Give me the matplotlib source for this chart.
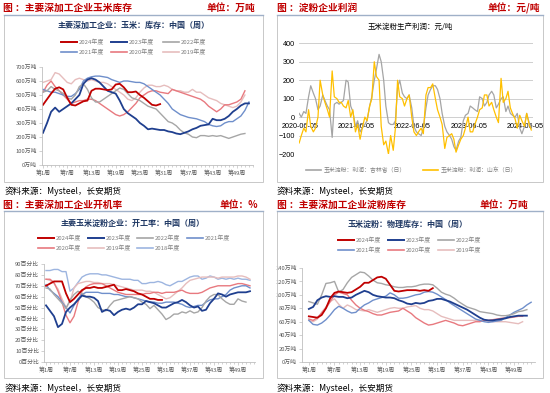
import numpy as np
import pandas as pd
import matplotlib
matplotlib.use("Agg")
import matplotlib.pyplot as plt
from matplotlib.patches import Rectangle
from matplotlib.lines import Line2D

plt.rcParams['font.family'] = ['Noto Sans CJK SC', 'DejaVu Sans']

W, H = 550, 393

# ---------------- data ----------------
week_ticks = [1, 7, 13, 19, 25, 31, 37, 43, 49]
week_labels = ["第%d周" % w for w in week_ticks]

# Panel 1: corn inventory (万吨)
inv_2024 = [430, 470, 510, 545, 555, 540, 480, 430, 425, 440, 455, 460, 530, 545, 545, 540, 535, 540,
            575, 580, 555, 520, 520, 525, 500, 480, 455, 430, 425, 435]
inv_2023 = [230, 300, 380, 410, 380, 400, 420, 440, 470, 500, 580, 610, 620, 610, 590, 560, 530, 520,
            510, 460, 400, 370, 350, 330, 300, 280, 255, 260, 255, 250, 250, 240, 235, 225, 220, 230,
            240, 255, 265, 280, 285, 290, 330, 320, 320, 330, 350, 380, 400, 425, 440, 440]
inv_2022 = [520, 530, 560, 540, 530, 510, 480, 470, 500, 560, 580, 540, 480, 450, 450, 470, 490, 510,
            530, 550, 540, 510, 480, 470, 460, 440, 420, 410, 400, 370, 340, 310, 300, 280, 250, 230,
            220, 200, 195, 210, 210, 205, 210, 205, 210, 200, 190, 200, 210, 220, 225]
inv_2021 = [540, 530, 520, 520, 510, 500, 490, 490, 510, 540, 600, 620, 630, 635, 635, 630, 625, 610,
            600, 590, 600, 600, 595, 590, 590, 580, 560, 540, 520, 500, 470, 440, 400, 380, 360, 350,
            340, 335, 330, 320, 310, 290, 280, 275, 280, 300, 310, 310, 330, 350, 390, 450]
inv_2020 = [520, 570, 600, 560, 530, 500, 470, 440, 450, 460, 460, 470, 470, 460, 440, 420, 400, 380,
            360, 350, 360, 380, 410, 440, 480, 500, 520, 530, 530, 520, 515, 510, 540, 530, 520, 510,
            500, 490, 480, 470, 450, 420, 400, 380, 400, 430, 430, 440, 450, 470, 530]
inv_2019 = [590, 600, 610, 660, 650, 620, 590, 580, 610, 620, 610, 600, 610, 600, 590, 590, 580, 560,
            540, 520, 500, 470, 460, 480, 520, 550, 570, 570, 560, 560, 570, 560, 540, 530, 530, 520,
            520, 540, 520, 520, 500, 480, 470, 460, 440, 430, 420, 410, 420, 450, 500]
inv_yticks = [0, 100, 200, 300, 400, 500, 600, 700]
inv_ylabels = ["%d万吨" % v for v in inv_yticks]

# Panel 2: starch profit (元/吨), semi-monthly readings
profit_dates = pd.date_range("2020-06-01", "2024-07-31", freq="SMS")
profit_jilin = [20, 0, 30, 20, 110, 170, 130, 100, 40, 60, 120, 90, 60, 40,
                -110, 70, 80, 70, 80, 90, 200, 190, 60, 30, -50, -20, -80, -60, -40, -20, 60, 110,
                200, 260, 340, 300, 200, 60,
                -30, -40, -40, -20, 160, 200, 130, 110, 100, 120, 50, -50, -80, -90, -100, -60,
                50, 120, 150, 170, 170, 150, 100, 20,
                -50, -80, -100, -120, -160, -180, -130, -110, -20, 10, 20, 60, 50, 40, 30, 110,
                100, 60, 80, 120, 140, 120, 50, 70,
                100, 110, 30, 60, 20, 10, 0, 20, -60, -90, -50, 20, -30, -60]
profit_shandong = [-140, -100, -60, -80, 40, -50, -80, -60, 0, 200, 120, 80, 40, 0,
                   250, 110, 100, 80, 80, 60, 50, 90, 0, 40, -80, -40, -120, -60, 0, -20, 60, 100,
                   300, 220, 200, -50, -150, -130,
                   -200, -100, -180, -60, 200, 110, 100, 60, 100, 120, 0, -80, -100, -80, -60, -90,
                   120, 160, 160, 180, 100, 40, 0, -40,
                   -170, -110, -100, -90, -120, -190, -150, -120, -100, -60, 0, -80, -80, -40, 0, 40,
                   50, 120, 120, 60, 80, 40, 0, -30,
                   210, 80, 100, 140, 50, 20, -10, -60, 10, -20, -50, 20, -40, -70]
profit_xticks = ["2020-06-05", "2021-06-05", "2022-06-05", "2023-06-05", "2024-06-05"]
profit_yticks = [-200, -100, 0, 100, 200, 300, 400]

# Panel 3: operating rate (%)
rate_2024 = [70, 72, 74, 74, 74, 63, 55, 58, 62, 66, 68, 68, 69, 68, 68, 69, 70, 71, 66, 66, 67, 66,
             65, 63, 62, 60, 58, 58, 57, 57]
rate_2023 = [52, 47, 42, 32, 35, 46, 50, 53, 57, 61, 60, 60, 59, 56, 46, 48, 47, 43, 46, 48, 49, 48,
             50, 53, 53, 56, 55, 54, 52, 50, 50, 52, 54, 55, 57, 55, 52, 50, 51, 47, 48, 54, 58, 63,
             62, 60, 62, 63, 64, 64, 64, 65]
rate_2022 = [68, 67, 62, 58, 54, 49, 57, 62, 65, 63, 60, 58, 55, 50, 48, 47, 52, 56, 57, 58, 59, 60,
             59, 58, 55, 53, 49, 52, 48, 44, 39, 41, 44, 44, 46, 45, 47, 45, 46, 50, 56, 60, 62, 62,
             58, 55, 53, 53, 58, 56, 55]
rate_2021 = [71, 66, 63, 60, 55, 50, 45, 52, 58, 62, 64, 64, 64, 64, 63, 63, 63, 62, 62, 61, 60, 60,
             59, 58, 57, 56, 55, 55, 54, 54, 55, 55, 55, 54, 53, 51, 50, 51, 52, 52, 55, 57, 58, 58,
             60, 62, 66, 68, 69, 70, 70, 68]
rate_2020 = [76, 76, 73, 65, 55, 43, 36, 42, 55, 65, 69, 71, 72, 72, 72, 70, 68, 66, 64, 63, 62, 62,
             62, 62, 62, 63, 63, 64, 64, 63, 64, 64, 64, 65, 66, 64, 63, 63, 63, 64, 66, 68, 69, 70,
             70, 70, 70, 71, 72, 72, 71, 70]
rate_2019 = [76, 75, 72, 67, 58, 50, 55, 68, 72, 73, 74, 74, 73, 73, 72, 72, 72, 71, 70, 69, 68, 67,
             66, 66, 66, 65, 65, 64, 62, 60, 58, 59, 62, 65, 68, 72, 75, 76, 77, 78, 78, 78, 78, 77,
             78, 78, 78, 78, 79, 79, 78, 76]
rate_2018 = [84, 84, 85, 85, 83, 83, 65, 68, 73, 78, 80, 81, 81, 81, 80, 80, 79, 78, 77, 76, 76, 76,
             75, 75, 72, 72, 73, 73, 74, 73, 71, 70, 72, 74, 74, 76, 78, 79, 79, 76, 77, 79, 78, 76,
             77, 76, 77, 76, 77, 76, 76, 75]
rate_yticks = [0, 10, 20, 30, 40, 50, 60, 70, 80, 90]
rate_ylabels = ["%d百分比" % v for v in rate_yticks]

# Panel 4: starch inventory (万吨)
st_2024 = [68, 67, 66, 70, 80, 95, 103, 105, 104, 103, 104, 108, 112, 118, 118, 122, 126, 127, 124,
           115, 106, 105, 106, 107, 107, 107, 106, 107, 106, 110]
st_2023 = [79, 82, 92, 96, 98, 97, 98, 97, 97, 95, 96, 100, 103, 106, 104, 100, 98, 97, 96, 96, 95,
           92, 90, 87, 86, 88, 87, 88, 91, 92, 94, 94, 92, 90, 87, 84, 81, 78, 74, 70, 66, 63, 62,
           62, 63, 64, 65, 67, 68, 69, 69, 69]
st_2022 = [90, 88, 86, 100, 117, 118, 120, 104, 108, 118, 126, 130, 134, 133, 128, 122, 118, 117,
           115, 114, 112, 111, 111, 112, 112, 113, 115, 116, 116, 115, 110, 104, 101, 99, 95, 90,
           86, 82, 80, 78, 75, 74, 73, 72, 70, 69, 69, 70, 72, 75, 76, 78]
st_2021 = [62, 56, 55, 58, 63, 70, 78, 83, 80, 76, 73, 74, 80, 85, 88, 92, 94, 96, 98, 103, 100, 95,
           95, 96, 98, 100, 101, 104, 105, 104, 101, 97, 93, 88, 84, 80, 76, 72, 68, 64, 62, 60,
           59, 60, 61, 62, 66, 70, 74, 77, 80, 85, 89]
st_2020 = [64, 62, 66, 73, 80, 90, 100, 104, 102, 100, 92, 85, 80, 77, 75, 72, 70, 70, 72, 74, 75,
           76, 80, 76, 72, 66, 62, 58, 55, 56, 58, 60, 62, 60, 58, 55, 54, 56, 58, 60, 60, 62, 62,
           63, 64, 65, 66, 66, 67, 68, 68]
st_2019 = [62, 60, 64, 74, 82, 90, 94, 86, 80, 85, 82, 78, 77, 76, 78, 76, 74, 76, 78, 80, 81, 80,
           80, 82, 83, 84, 80, 78, 78, 76, 72, 68, 66, 64, 62, 62, 62, 62, 62, 62, 62, 61, 61, 60,
           60, 60, 60, 59, 58, 57, 60]
st_yticks = [0, 20, 40, 60, 80, 100, 120, 140]
st_ylabels = ["%d万吨" % v for v in st_yticks]

# ---------------- styles ----------------
C24, C23, C22, C21 = '#C00000', '#1F3F8F', '#A6A6A6', '#6F8FCB'
C20, C19, C18 = '#E8797F', '#E6BDBD', '#9DB5E0'
RED = '#C00000'
TITLE_C = '#1F3864'
TICK_C = '#595959'

fig = plt.figure(figsize=(W / 100, H / 100), dpi=100)


def fx(x):
    return x / W


def fy(y):
    return 1 - y / H


def add_ax(l, t, r, b):
    return fig.add_axes([fx(l), fy(b), (r - l) / W, (b - t) / H])


def frame(x0, y0, x1, y1):
    fig.add_artist(Rectangle((fx(x0), fy(y1)), (x1 - x0) / W, (y1 - y0) / H,
                             transform=fig.transFigure, fill=False,
                             edgecolor='#C8C8C8', lw=0.7))
    fig.add_artist(Line2D([fx(x0), fx(x1)], [fy(y0), fy(y0)], transform=fig.transFigure,
                          color='#9FB0C8', lw=1.0))


def header(x0, x1, y, left, right):
    fig.text(fx(x0), fy(y), left, color=RED, fontsize=7, fontweight='bold', va='center', ha='left')
    fig.text(fx(x1), fy(y), right, color=RED, fontsize=7, fontweight='bold', va='center', ha='right')


def source(x, y):
    fig.text(fx(x), fy(y), "资料来源：Mysteel，长安期货", color='black', fontsize=6.2,
             va='center', ha='left')


def legend_item(x, y, color, label, lw=1.2):
    fig.add_artist(Line2D([fx(x), fx(x + 16)], [fy(y), fy(y)], transform=fig.transFigure,
                          color=color, lw=lw))
    fig.text(fx(x + 18), fy(y), label, color='#808080', fontsize=4.3, va='center', ha='left')


def weekly_axes(ax, xlim, yticks, ylabels, ylim):
    ax.set_xlim(*xlim)
    ax.set_ylim(*ylim)
    for s in ['top', 'right']:
        ax.spines[s].set_visible(False)
    for s in ['left', 'bottom']:
        ax.spines[s].set_color('#BFBFBF')
        ax.spines[s].set_linewidth(0.6)
    ax.set_xticks(week_ticks)
    ax.set_xticklabels(week_labels)
    ax.set_xticks(np.arange(1, 54), minor=True)
    ax.set_yticks(yticks)
    ax.set_yticklabels(ylabels)
    ax.tick_params(axis='both', which='both', colors='#BFBFBF', labelcolor=TICK_C,
                   labelsize=4.2, length=2, width=0.5, pad=1.5)
    ax.tick_params(axis='x', which='minor', length=1.5)
    ax.patch.set_alpha(0)


def plot_weekly(ax, series):
    for vals, color, lw in series:
        ax.plot(np.arange(1, len(vals) + 1), vals, color=color, lw=lw)


# ---------------- Panel 1 ----------------
frame(4, 15, 263, 182)
header(3, 255, 8, "图 ：主要深加工企业玉米库存", "单位：万吨")
fig.text(fx(134), fy(25), "主要深加工企业：玉米：库存：中国（周）", color=TITLE_C, fontsize=5.8,
         fontweight='bold', ha='center', va='center')
legend_item(61, 42, C24, "2024年度", 1.4)
legend_item(111, 42, C23, "2023年度", 1.4)
legend_item(163, 42, C22, "2022年度")
legend_item(61, 52, C21, "2021年度")
legend_item(111, 52, C20, "2020年度")
legend_item(163, 52, C19, "2019年度")
ax1 = add_ax(42, 67, 253, 165)
plot_weekly(ax1, [(inv_2019, C19, 1.0), (inv_2020, C20, 1.0), (inv_2021, C21, 1.0),
                  (inv_2022, C22, 1.0), (inv_2023, C23, 1.3), (inv_2024, C24, 1.3)])
weekly_axes(ax1, (0.75, 52.9), inv_yticks, inv_ylabels, (0, 700))
source(5, 191)

# ---------------- Panel 2 ----------------
frame(277, 15, 543, 182)
header(277, 540, 8, "图 ：淀粉企业利润", "单位：元/吨")
fig.text(fx(410), fy(27), "玉米淀粉生产利润：元/吨", color='black', fontsize=5.4,
         ha='center', va='center')
ax2 = add_ax(299, 43.3, 533, 154)
ax2.plot(profit_dates, profit_jilin, color='#A5A5A5', lw=0.9)
ax2.plot(profit_dates, profit_shandong, color='#FFC000', lw=0.9)
ax2.set_ylim(-200, 400)
ax2.set_xlim(pd.Timestamp("2020-05-31"), pd.Timestamp("2024-07-26"))
ax2.set_yticks(profit_yticks)
ax2.grid(axis='y', color='#C8C8C8', lw=0.6)
ax2.set_axisbelow(True)
for s in ['top', 'right', 'left']:
    ax2.spines[s].set_visible(False)
ax2.spines['bottom'].set_position(('data', 0))
ax2.spines['bottom'].set_visible(False)
ax2.set_xticks([pd.Timestamp(d) for d in profit_xticks])
ax2.set_xticklabels(profit_xticks)
ax2.tick_params(axis='x', length=0, labelsize=5.2, pad=4, labelfontfamily='Liberation Sans')
ax2.tick_params(axis='y', length=0, labelsize=5.2, pad=3, labelfontfamily='Liberation Sans')
ax2.patch.set_alpha(0)
fig.add_artist(Line2D([fx(306), fx(321)], [fy(170), fy(170)], transform=fig.transFigure,
                      color='#A5A5A5', lw=1.2))
fig.text(fx(324), fy(170), "玉米淀粉：利润：吉林省（日）", color='#808080', fontsize=4.2, va='center')
fig.add_artist(Line2D([fx(423), fx(438)], [fy(170), fy(170)], transform=fig.transFigure,
                      color='#FFC000', lw=1.2))
fig.text(fx(441), fy(170), "玉米淀粉：利润：山东（日）", color='#808080', fontsize=4.2, va='center')
source(277, 191)

# ---------------- Panel 3 ----------------
frame(4, 211, 263, 378)
header(3, 258, 205, "图 ：主要深加工企业开机率", "单位：%")
fig.text(fx(133), fy(223), "主要玉米淀粉企业：开工率：中国（周）", color=TITLE_C, fontsize=5.8,
         fontweight='bold', ha='center', va='center')
legend_item(38, 238, C24, "2024年度", 1.4)
legend_item(88, 238, C23, "2023年度", 1.4)
legend_item(137, 238, C22, "2022年度")
legend_item(187, 238, C21, "2021年度")
legend_item(38, 248, C20, "2020年度")
legend_item(88, 248, C19, "2019年度")
legend_item(137, 248, C18, "2018年度")
ax3 = add_ax(44, 264, 255, 362)
plot_weekly(ax3, [(rate_2018, C18, 1.0), (rate_2019, C19, 1.0), (rate_2020, C20, 1.0),
                  (rate_2021, C21, 1.0), (rate_2022, C22, 1.0), (rate_2023, C23, 1.3),
                  (rate_2024, C24, 1.3)])
weekly_axes(ax3, (0.5, 53.25), rate_yticks, rate_ylabels, (0, 90))
source(5, 388)

# ---------------- Panel 4 ----------------
frame(277, 211, 543, 378)
header(277, 528, 205, "图 ：主要深加工企业淀粉库存", "单位：万吨")
fig.text(fx(408), fy(224), "玉米淀粉：物理库存：中国（周）", color=TITLE_C, fontsize=5.8,
         fontweight='bold', ha='center', va='center')
legend_item(338, 240, C24, "2024年度", 1.4)
legend_item(388, 240, C23, "2023年度", 1.4)
legend_item(438, 240, C22, "2022年度")
legend_item(338, 250, C21, "2021年度")
legend_item(388, 250, C20, "2020年度")
legend_item(438, 250, C19, "2019年度")
ax4 = add_ax(302, 268, 535, 362)
plot_weekly(ax4, [(st_2019, C19, 1.0), (st_2020, C20, 1.0), (st_2021, C21, 1.0),
                  (st_2022, C22, 1.0), (st_2023, C23, 1.3), (st_2024, C24, 1.3)])
weekly_axes(ax4, (-0.6, 53.9), st_yticks, st_ylabels, (0, 140))
source(277, 388)

fig.savefig("out.png", dpi=100)
